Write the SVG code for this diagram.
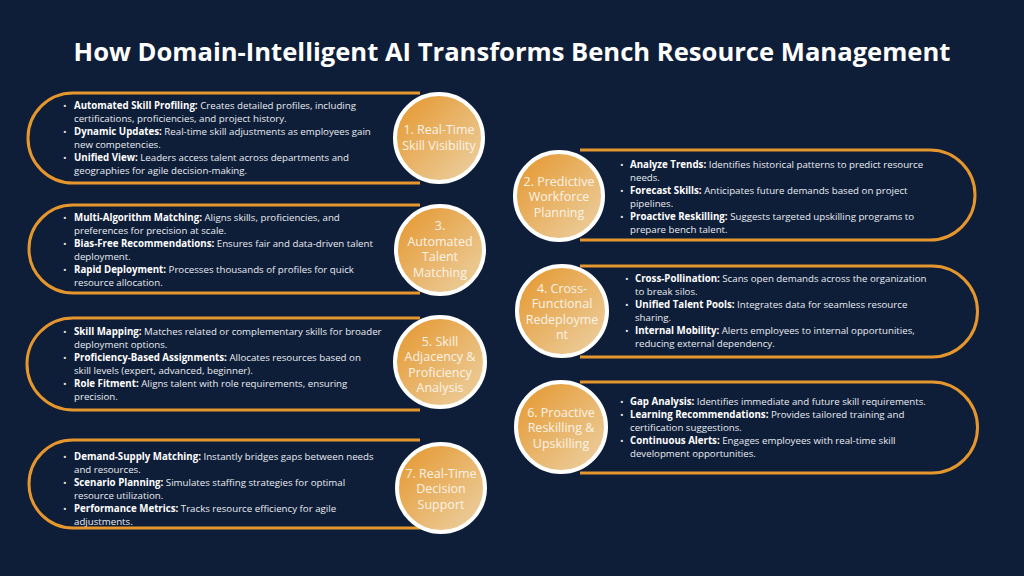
<svg xmlns="http://www.w3.org/2000/svg" width="1024" height="576" viewBox="0 0 1024 576">
<defs>
<linearGradient id="g" x1="0" y1="0" x2="1" y2="1"><stop offset="0" stop-color="#e5952a"/><stop offset="1" stop-color="#ecd3a8"/></linearGradient>
<style>
.arc{fill:none;stroke:#e5962c;stroke-width:3}
.c{fill:url(#g);stroke:#fff;stroke-width:4}
.ct{font-family:"Open Sans","Liberation Sans",sans-serif;font-size:12.5px;fill:#fbf3e6;text-anchor:middle}
.t{font-family:"Open Sans","Liberation Sans",sans-serif;font-size:9.7px;fill:#e8ecf2}
.t tspan.b{font-weight:bold;fill:#fff}
.ttl{font-family:"Open Sans","Liberation Sans",sans-serif;font-size:25.6px;font-weight:bold;fill:#fff;text-anchor:middle}
</style>
</defs>
<rect width="1024" height="576" fill="#0f1e38"/>
<text class="ttl" x="512" y="61">How Domain-Intelligent AI Transforms Bench Resource Management</text>
<g id="connectors">
<path class="arc" d="M420 93 H73 A45 45 0 0 0 73 183 H420"/>
<path class="arc" d="M420 205 H73 A44 44 0 0 0 73 293 H420"/>
<path class="arc" d="M420 318 H73 A46 46 0 0 0 73 410 H420"/>
<path class="arc" d="M420 440 H73 A44 44 0 0 0 73 528 H420"/>
<path class="arc" d="M580 150 H930 A45 45 0 0 1 930 240 H580"/>
<path class="arc" d="M580 266 H932 A45.5 45.5 0 0 1 932 357 H580"/>
<path class="arc" d="M580 382 H932 A45.5 45.5 0 0 1 932 473 H580"/>
</g>
<g id="n1"><circle class="c" cx="439" cy="138" r="44"/>
<text class="ct"><tspan x="439" y="134">1. Real-Time</tspan><tspan x="439" y="150">Skill Visibility</tspan></text>
<text class="t"><tspan x="63" y="109">•</tspan><tspan x="74" class="b">Automated Skill Profiling:</tspan><tspan> Creates detailed profiles, including</tspan><tspan x="74" y="122">certifications, proficiencies, and project history.</tspan><tspan x="63" y="135">•</tspan><tspan x="74" class="b">Dynamic Updates:</tspan><tspan> Real-time skill adjustments as employees gain</tspan><tspan x="74" y="148">new competencies.</tspan><tspan x="63" y="161">•</tspan><tspan x="74" class="b">Unified View:</tspan><tspan> Leaders access talent across departments and</tspan><tspan x="74" y="174">geographies for agile decision-making.</tspan></text></g>
<g id="n3"><circle class="c" cx="440" cy="250" r="44"/>
<text class="ct"><tspan x="440" y="230">3.</tspan><tspan x="440" y="246">Automated</tspan><tspan x="440" y="261">Talent</tspan><tspan x="440" y="277">Matching</tspan></text>
<text class="t"><tspan x="63" y="221">•</tspan><tspan x="74" class="b">Multi-Algorithm Matching:</tspan><tspan> Aligns skills, proficiencies, and</tspan><tspan x="74" y="234">preferences for precision at scale.</tspan><tspan x="63" y="247">•</tspan><tspan x="74" class="b">Bias-Free Recommendations:</tspan><tspan> Ensures fair and data-driven talent</tspan><tspan x="74" y="260">deployment.</tspan><tspan x="63" y="273">•</tspan><tspan x="74" class="b">Rapid Deployment:</tspan><tspan> Processes thousands of profiles for quick</tspan><tspan x="74" y="286">resource allocation.</tspan></text></g>
<g id="n5"><circle class="c" cx="440" cy="362" r="45"/>
<text class="ct"><tspan x="440" y="346">5. Skill</tspan><tspan x="440" y="361">Adjacency &amp;</tspan><tspan x="440" y="377">Proficiency</tspan><tspan x="440" y="392">Analysis</tspan></text>
<text class="t"><tspan x="63" y="335">•</tspan><tspan x="74" class="b">Skill Mapping:</tspan><tspan> Matches related or complementary skills for broader</tspan><tspan x="74" y="348">deployment options.</tspan><tspan x="63" y="361">•</tspan><tspan x="74" class="b">Proficiency-Based Assignments:</tspan><tspan> Allocates resources based on</tspan><tspan x="74" y="374">skill levels (expert, advanced, beginner).</tspan><tspan x="63" y="387">•</tspan><tspan x="74" class="b">Role Fitment:</tspan><tspan> Aligns talent with role requirements, ensuring</tspan><tspan x="74" y="400">precision.</tspan></text></g>
<g id="n7"><circle class="c" cx="441" cy="488" r="44"/>
<text class="ct"><tspan x="441" y="478">7. Real-Time</tspan><tspan x="441" y="493">Decision</tspan><tspan x="441" y="509">Support</tspan></text>
<text class="t"><tspan x="63" y="460">•</tspan><tspan x="74" class="b">Demand-Supply Matching:</tspan><tspan> Instantly bridges gaps between needs</tspan><tspan x="74" y="473">and resources.</tspan><tspan x="63" y="486">•</tspan><tspan x="74" class="b">Scenario Planning:</tspan><tspan> Simulates staffing strategies for optimal</tspan><tspan x="74" y="499">resource utilization.</tspan><tspan x="63" y="512">•</tspan><tspan x="74" class="b">Performance Metrics:</tspan><tspan> Tracks resource efficiency for agile</tspan><tspan x="74" y="525">adjustments.</tspan></text></g>
<g id="n2"><circle class="c" cx="559" cy="196" r="44"/>
<text class="ct"><tspan x="559" y="186">2. Predictive</tspan><tspan x="559" y="201">Workforce</tspan><tspan x="559" y="217">Planning</tspan></text>
<text class="t"><tspan x="620" y="168">•</tspan><tspan x="630" class="b">Analyze Trends:</tspan><tspan> Identifies historical patterns to predict resource</tspan><tspan x="630" y="181">needs.</tspan><tspan x="620" y="194">•</tspan><tspan x="630" class="b">Forecast Skills:</tspan><tspan> Anticipates future demands based on project</tspan><tspan x="630" y="207">pipelines.</tspan><tspan x="620" y="220">•</tspan><tspan x="630" class="b">Proactive Reskilling:</tspan><tspan> Suggests targeted upskilling programs to</tspan><tspan x="630" y="233">prepare bench talent.</tspan></text></g>
<g id="n4"><circle class="c" cx="562" cy="311" r="45"/>
<text class="ct"><tspan x="562" y="293">4. Cross-</tspan><tspan x="562" y="308">Functional</tspan><tspan x="562" y="324">Redeployme</tspan><tspan x="562" y="339">nt</tspan></text>
<text class="t"><tspan x="625" y="282">•</tspan><tspan x="635" class="b">Cross-Pollination:</tspan><tspan> Scans open demands across the organization</tspan><tspan x="635" y="295">to break silos.</tspan><tspan x="625" y="308">•</tspan><tspan x="635" class="b">Unified Talent Pools:</tspan><tspan> Integrates data for seamless resource</tspan><tspan x="635" y="321">sharing.</tspan><tspan x="625" y="334">•</tspan><tspan x="635" class="b">Internal Mobility:</tspan><tspan> Alerts employees to internal opportunities,</tspan><tspan x="635" y="347">reducing external dependency.</tspan></text></g>
<g id="n6"><circle class="c" cx="561" cy="427" r="45"/>
<text class="ct"><tspan x="561" y="417">6. Proactive</tspan><tspan x="561" y="432">Reskilling &amp;</tspan><tspan x="561" y="448">Upskilling</tspan></text>
<text class="t"><tspan x="620" y="405">•</tspan><tspan x="630" class="b">Gap Analysis:</tspan><tspan> Identifies immediate and future skill requirements.</tspan><tspan x="620" y="418">•</tspan><tspan x="630" class="b">Learning Recommendations:</tspan><tspan> Provides tailored training and</tspan><tspan x="630" y="431">certification suggestions.</tspan><tspan x="620" y="444">•</tspan><tspan x="630" class="b">Continuous Alerts:</tspan><tspan> Engages employees with real-time skill</tspan><tspan x="630" y="457">development opportunities.</tspan></text></g>
</svg>
